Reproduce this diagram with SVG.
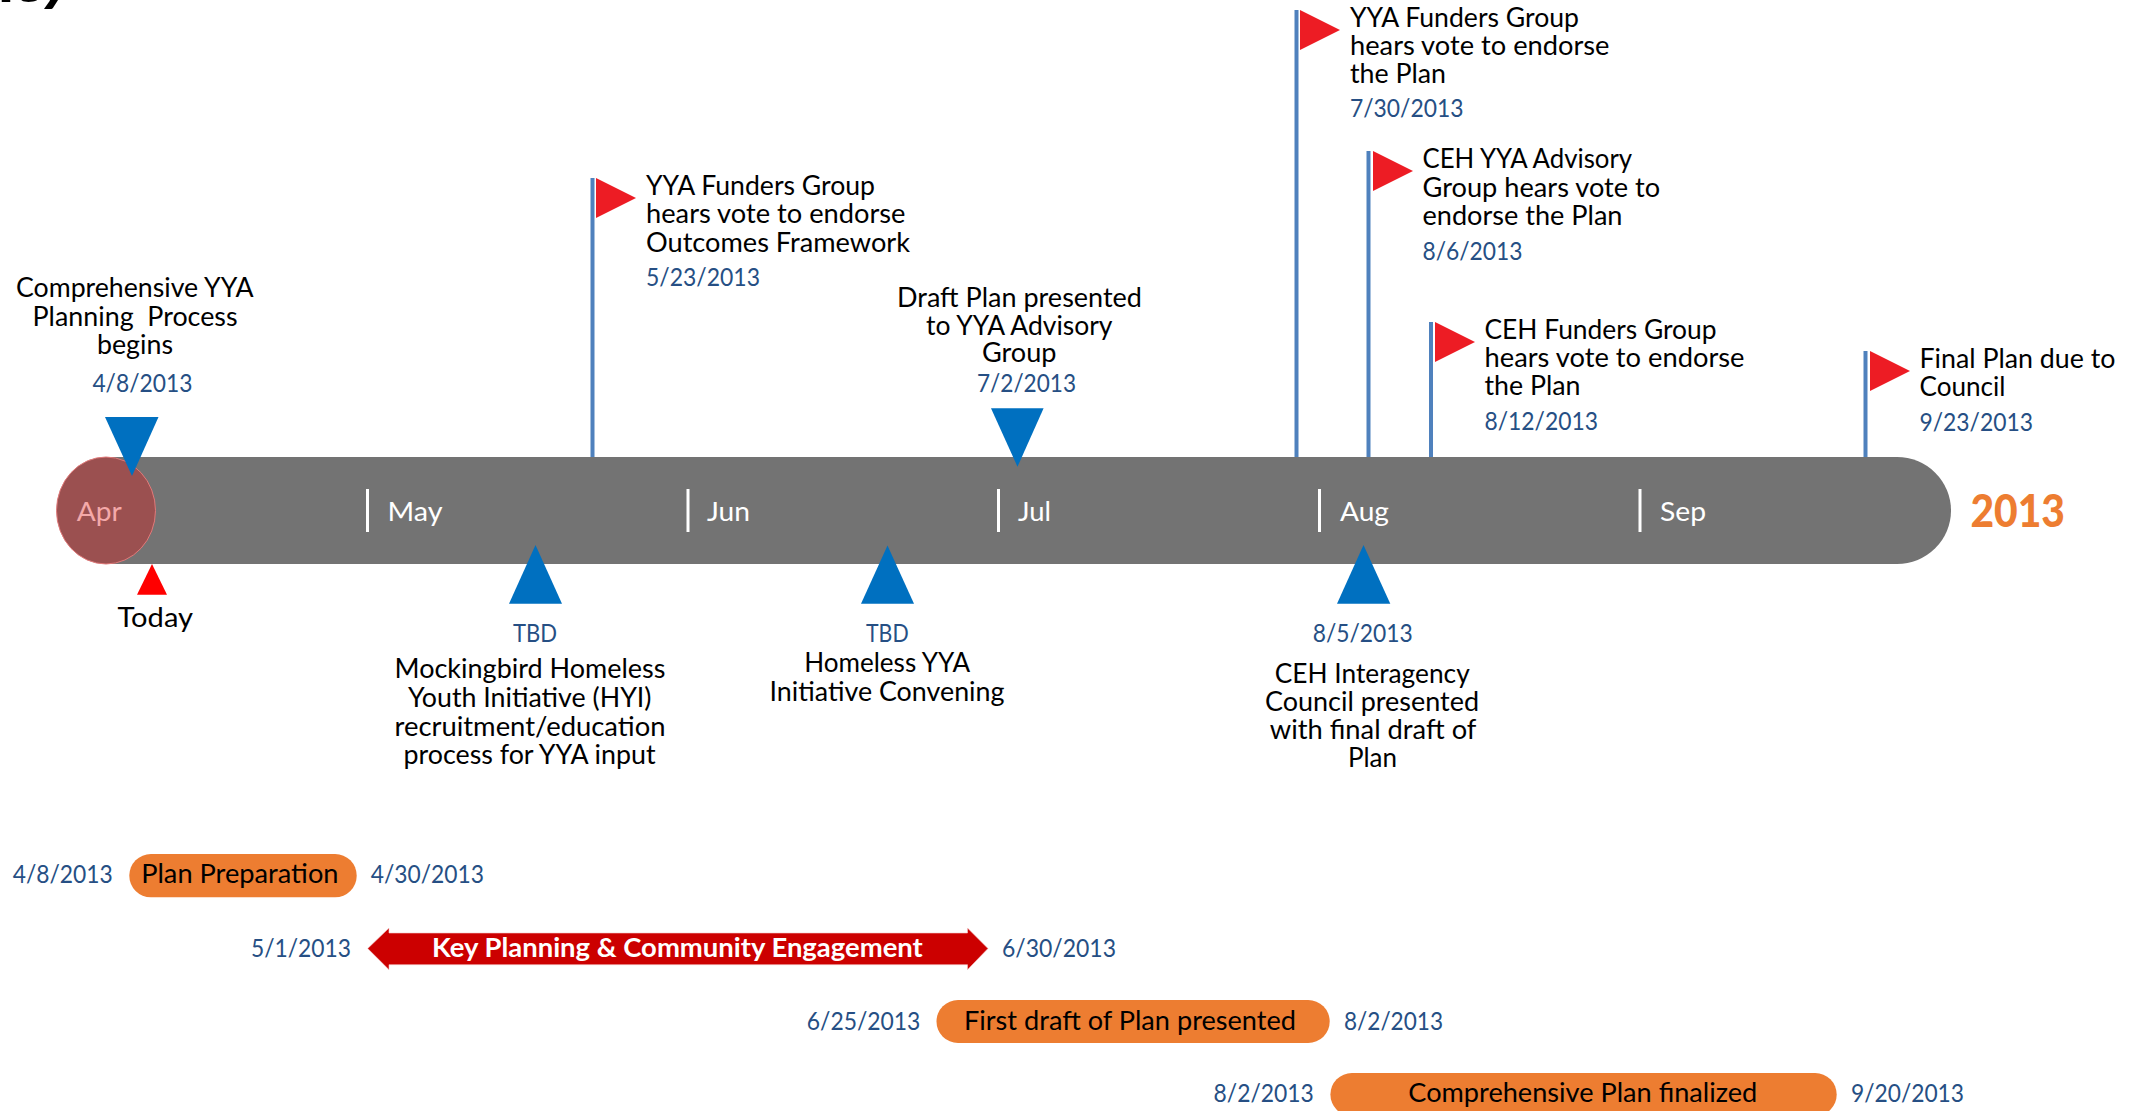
<svg xmlns="http://www.w3.org/2000/svg" width="2148" height="1111" viewBox="0 0 2148 1111">
<style>
text{font-family:Lato,"Liberation Sans",sans-serif;white-space:pre}
.t{font-size:26.4px;fill:#000}
.d{font-size:25.5px;fill:#264f84}
.m{font-size:27.5px;fill:#fff}
.pole{stroke:#4f81bd;stroke-width:4;fill:none}
.tick{stroke:#fff;stroke-width:3;fill:none}
.flag{fill:#ed1c24}
.tri{fill:#0070c0}
.pill{fill:#ed7d31}
</style>
<rect width="2148" height="1111" fill="#fff"/>
<g id="title-fragment"><text x="-2" y="2" style="font-size:40px;font-weight:900" textLength="72" lengthAdjust="spacingAndGlyphs">ity</text></g>
<g id="connectors">
<path class="pole" d="M592.5 178V457M1296.5 10V457M1368.5 151V457M1431 322V457M1865.5 351V457"/>
</g>
<g id="timeline-bar">
<rect x="57" y="457" width="1894" height="107" rx="54" ry="53.5" fill="#737373"/>
<path class="tick" d="M367.5 489V532M688 489V532M998.5 489V532M1319.5 489V532M1640 489V532"/>
<text class="m" x="387.5" y="521" textLength="55" lengthAdjust="spacingAndGlyphs">May</text>
<text class="m" x="707" y="521" textLength="43" lengthAdjust="spacingAndGlyphs">Jun</text>
<text class="m" x="1018" y="521" textLength="33" lengthAdjust="spacingAndGlyphs">Jul</text>
<text class="m" x="1340" y="521" textLength="49" lengthAdjust="spacingAndGlyphs">Aug</text>
<text class="m" x="1660" y="521" textLength="46" lengthAdjust="spacingAndGlyphs">Sep</text>
<text x="1970.5" y="527" textLength="94.5" lengthAdjust="spacingAndGlyphs" style="font-size:46px;font-weight:900;fill:#ed7d31">2013</text>
</g>
<g id="today-apr">
<ellipse cx="106" cy="510.5" rx="49.5" ry="53.5" fill="#9b5050" stroke="#e07a7a" stroke-width="1"/>
<text x="76.8" y="521" textLength="45" lengthAdjust="spacingAndGlyphs" style="font-size:27.5px;fill:#f4a9a9">Apr</text>
<path d="M152 564L167 594.7H137Z" fill="#f00"/>
<text class="t" x="117.5" y="627" textLength="75.5" lengthAdjust="spacingAndGlyphs">Today</text>
</g>
<g id="start-milestone">
<path class="tri" d="M105 417H158.5L132 476Z"/>
<text class="t" x="16" y="297" textLength="237.5" lengthAdjust="spacingAndGlyphs">Comprehensive YYA</text>
<text class="t" x="32.6" y="326" textLength="205" lengthAdjust="spacingAndGlyphs">Planning  Process</text>
<text class="t" x="97" y="354" textLength="76" lengthAdjust="spacingAndGlyphs">begins</text>
<text class="d" x="92.4" y="391.7" textLength="100" lengthAdjust="spacingAndGlyphs">4/8/2013</text>
</g>
<g id="flag-outcomes">
<path class="flag" d="M596 178L636 198L596 218Z"/>
<text class="t" x="646" y="195" textLength="229" lengthAdjust="spacingAndGlyphs">YYA Funders Group</text>
<text class="t" x="646" y="223" textLength="259.5" lengthAdjust="spacingAndGlyphs">hears vote to endorse</text>
<text class="t" x="646" y="252" textLength="264" lengthAdjust="spacingAndGlyphs">Outcomes Framework</text>
<text class="d" x="646" y="286" textLength="114" lengthAdjust="spacingAndGlyphs">5/23/2013</text>
</g>
<g id="draft-milestone">
<path class="tri" d="M991 408.3H1043.6L1017.5 466.7Z"/>
<text class="t" x="897" y="306.7" textLength="245" lengthAdjust="spacingAndGlyphs">Draft Plan presented</text>
<text class="t" x="926" y="334.7" textLength="186.5" lengthAdjust="spacingAndGlyphs">to YYA Advisory</text>
<text class="t" x="982" y="362.3" textLength="74.5" lengthAdjust="spacingAndGlyphs">Group</text>
<text class="d" x="977" y="392" textLength="99" lengthAdjust="spacingAndGlyphs">7/2/2013</text>
</g>
<g id="flag-funders">
<path class="flag" d="M1300 10L1340 30L1300 50Z"/>
<text class="t" x="1350" y="27" textLength="229" lengthAdjust="spacingAndGlyphs">YYA Funders Group</text>
<text class="t" x="1350" y="55" textLength="259.5" lengthAdjust="spacingAndGlyphs">hears vote to endorse</text>
<text class="t" x="1350" y="83" textLength="96" lengthAdjust="spacingAndGlyphs">the Plan</text>
<text class="d" x="1350" y="117" textLength="113.5" lengthAdjust="spacingAndGlyphs">7/30/2013</text>
</g>
<g id="flag-advisory">
<path class="flag" d="M1373 151L1413 171L1373 191Z"/>
<text class="t" x="1422.5" y="168" textLength="209.6" lengthAdjust="spacingAndGlyphs">CEH YYA Advisory</text>
<text class="t" x="1422.5" y="197" textLength="237.7" lengthAdjust="spacingAndGlyphs">Group hears vote to</text>
<text class="t" x="1422.5" y="225" textLength="200" lengthAdjust="spacingAndGlyphs">endorse the Plan</text>
<text class="d" x="1422.5" y="260" textLength="100" lengthAdjust="spacingAndGlyphs">8/6/2013</text>
</g>
<g id="flag-ceh-funders">
<path class="flag" d="M1435 322L1475 342L1435 362Z"/>
<text class="t" x="1484.5" y="338.5" textLength="232" lengthAdjust="spacingAndGlyphs">CEH Funders Group</text>
<text class="t" x="1484.5" y="366.5" textLength="260" lengthAdjust="spacingAndGlyphs">hears vote to endorse</text>
<text class="t" x="1484.5" y="395" textLength="96" lengthAdjust="spacingAndGlyphs">the Plan</text>
<text class="d" x="1484.5" y="430" textLength="113.5" lengthAdjust="spacingAndGlyphs">8/12/2013</text>
</g>
<g id="flag-council">
<path class="flag" d="M1870 351L1910 371L1870 391Z"/>
<text class="t" x="1919.5" y="368" textLength="196" lengthAdjust="spacingAndGlyphs">Final Plan due to</text>
<text class="t" x="1919.5" y="396" textLength="86" lengthAdjust="spacingAndGlyphs">Council</text>
<text class="d" x="1919.5" y="431" textLength="113.5" lengthAdjust="spacingAndGlyphs">9/23/2013</text>
</g>
<g id="hyi-milestone">
<path class="tri" d="M535.5 545L562 603.7H509Z"/>
<text class="d" x="513" y="641.7" textLength="44" lengthAdjust="spacingAndGlyphs">TBD</text>
<text class="t" x="394.5" y="678.3" textLength="271" lengthAdjust="spacingAndGlyphs">Mockingbird Homeless</text>
<text class="t" x="408" y="707" textLength="243.5" lengthAdjust="spacingAndGlyphs">Youth Initiative (HYI)</text>
<text class="t" x="394.5" y="735.7" textLength="271" lengthAdjust="spacingAndGlyphs">recruitment/education</text>
<text class="t" x="403.5" y="763.5" textLength="252" lengthAdjust="spacingAndGlyphs">process for YYA input</text>
</g>
<g id="convening-milestone">
<path class="tri" d="M887.5 545.5L914 603.7H861Z"/>
<text class="d" x="866" y="641.7" textLength="42.6" lengthAdjust="spacingAndGlyphs">TBD</text>
<text class="t" x="804.2" y="672.3" textLength="166" lengthAdjust="spacingAndGlyphs">Homeless YYA</text>
<text class="t" x="769.5" y="700.7" textLength="235" lengthAdjust="spacingAndGlyphs">Initiative Convening</text>
</g>
<g id="interagency-milestone">
<path class="tri" d="M1363.5 545L1390.3 603.7H1337Z"/>
<text class="d" x="1312.7" y="641.7" textLength="100" lengthAdjust="spacingAndGlyphs">8/5/2013</text>
<text class="t" x="1274.7" y="682.7" textLength="195" lengthAdjust="spacingAndGlyphs">CEH Interagency</text>
<text class="t" x="1265" y="710.7" textLength="214" lengthAdjust="spacingAndGlyphs">Council presented</text>
<text class="t" x="1269.7" y="738.7" textLength="206.7" lengthAdjust="spacingAndGlyphs">with final draft of</text>
<text class="t" x="1348" y="766.7" textLength="49" lengthAdjust="spacingAndGlyphs">Plan</text>
</g>
<g id="phase-preparation">
<text class="d" x="12.7" y="883.3" textLength="100" lengthAdjust="spacingAndGlyphs">4/8/2013</text>
<rect class="pill" x="129.3" y="854" width="227.4" height="43.3" rx="21.6"/>
<text class="t" x="141.2" y="883.3" textLength="197.3" lengthAdjust="spacingAndGlyphs" style="font-size:27.5px">Plan Preparation</text>
<text class="d" x="370.7" y="883.3" textLength="113.3" lengthAdjust="spacingAndGlyphs">4/30/2013</text>
</g>
<g id="phase-engagement">
<text class="d" x="251" y="956.7" textLength="100" lengthAdjust="spacingAndGlyphs">5/1/2013</text>
<path d="M367.7 948.5L389 928V933H967.5V928L988 948.5L967.5 969.7V964.7H389V969.7Z" fill="#c00" stroke="#f3c9c9" stroke-width=".6"/>
<text x="432" y="956.7" textLength="490.8" lengthAdjust="spacingAndGlyphs" style="font-size:27.5px;font-weight:700;fill:#fff">Key Planning &amp; Community Engagement</text>
<text class="d" x="1002" y="956.7" textLength="114" lengthAdjust="spacingAndGlyphs">6/30/2013</text>
</g>
<g id="phase-first-draft">
<text class="d" x="806.8" y="1030" textLength="113.6" lengthAdjust="spacingAndGlyphs">6/25/2013</text>
<rect class="pill" x="936.5" y="1000" width="393.2" height="43" rx="21.5"/>
<text class="t" x="964" y="1030" textLength="332" lengthAdjust="spacingAndGlyphs" style="font-size:27.5px">First draft of Plan presented</text>
<text class="d" x="1344" y="1030" textLength="99" lengthAdjust="spacingAndGlyphs">8/2/2013</text>
</g>
<g id="phase-finalized">
<text class="d" x="1213.6" y="1102.3" textLength="100.2" lengthAdjust="spacingAndGlyphs">8/2/2013</text>
<rect class="pill" x="1330.4" y="1073" width="506.3" height="43" rx="21.5"/>
<text class="t" x="1408.3" y="1102.3" textLength="349" lengthAdjust="spacingAndGlyphs" style="font-size:27.5px">Comprehensive Plan finalized</text>
<text class="d" x="1851" y="1102.3" textLength="113" lengthAdjust="spacingAndGlyphs">9/20/2013</text>
</g>
</svg>
